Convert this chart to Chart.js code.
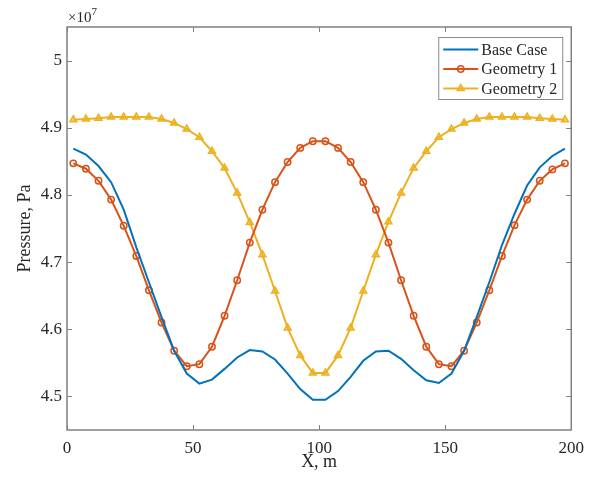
<!DOCTYPE html>
<html>
<head>
<meta charset="utf-8">
<script src="https://cdn.jsdelivr.net/npm/chart.js@4.4.0/dist/chart.umd.min.js"></script>
<style>
  html, body { margin: 0; padding: 0; background: #fff; }
  #wrap { width: 592px; height: 482px; }
</style>
</head>
<body>
<div id="wrap"><canvas id="pressureChart"></canvas></div>
<script>
// sample positions along the domain, m
const xPos = [2.5, 7.5, 12.5, 17.5, 22.5, 27.5, 32.5, 37.5, 42.5, 47.5,
              52.5, 57.5, 62.5, 67.5, 72.5, 77.5, 82.5, 87.5, 92.5, 97.5,
              102.5, 107.5, 112.5, 117.5, 122.5, 127.5, 132.5, 137.5, 142.5, 147.5,
              152.5, 157.5, 162.5, 167.5, 172.5, 177.5, 182.5, 187.5, 192.5, 197.5];

// pressure, x10^7 Pa
const baseCase = [4.869, 4.860, 4.843, 4.819, 4.778, 4.722, 4.670, 4.618, 4.568, 4.534,
                  4.519, 4.525, 4.541, 4.558, 4.569, 4.567, 4.555, 4.534, 4.511, 4.495,
                  4.495, 4.508, 4.529, 4.553, 4.567, 4.568, 4.556, 4.539, 4.524, 4.520,
                  4.534, 4.568, 4.618, 4.670, 4.725, 4.772, 4.814, 4.841, 4.858, 4.869];
const geometry1 = [4.847, 4.839, 4.821, 4.793, 4.754, 4.709, 4.658, 4.610, 4.568, 4.545,
                   4.548, 4.574, 4.620, 4.673, 4.729, 4.778, 4.819, 4.849, 4.870, 4.880,
                   4.880, 4.870, 4.849, 4.819, 4.778, 4.729, 4.673, 4.620, 4.574, 4.548,
                   4.545, 4.568, 4.610, 4.658, 4.709, 4.755, 4.793, 4.821, 4.838, 4.847];
const geometry2 = [4.912, 4.913, 4.914, 4.916, 4.916, 4.916, 4.916, 4.913, 4.907, 4.898,
                   4.886, 4.865, 4.840, 4.803, 4.759, 4.711, 4.657, 4.602, 4.561, 4.535,
                   4.535, 4.561, 4.602, 4.657, 4.711, 4.760, 4.803, 4.840, 4.865, 4.886,
                   4.898, 4.907, 4.913, 4.916, 4.916, 4.916, 4.916, 4.914, 4.913, 4.912];

const seriesNames = ['Base Case', 'Geometry 1', 'Geometry 2'];
const xTicks = [0, 50, 100, 150, 200];
const yTicks = [4.5, 4.6, 4.7, 4.8, 4.9, 5.0];

const SERIF = "'Liberation Serif', 'Times New Roman', serif";
const AXIS_GRAY = '#808080';
const TEXT = '#262626';

function toPoints(ys) {
    return xPos.map((x, i) => ({ x: x, y: ys[i] }));
}

// box around the axes with inward ticks on all four sides, plus the exponent
const boxAxes = {
    id: 'boxAxes',
    afterDatasetsDraw(chart) {
        const { ctx, chartArea: a, scales: { x, y } } = chart;
        const len = 5;
        ctx.save();
        ctx.strokeStyle = AXIS_GRAY;
        ctx.lineWidth = 1.5;
        ctx.strokeRect(a.left, a.top, a.right - a.left, a.bottom - a.top);
        ctx.lineWidth = 1;
        ctx.beginPath();
        x.ticks.forEach(t => {
            const px = Math.round(x.getPixelForValue(t.value)) + 0.5;
            ctx.moveTo(px, a.bottom); ctx.lineTo(px, a.bottom - len);
            ctx.moveTo(px, a.top); ctx.lineTo(px, a.top + len);
        });
        y.ticks.forEach(t => {
            const py = Math.round(y.getPixelForValue(t.value)) + 0.5;
            ctx.moveTo(a.left, py); ctx.lineTo(a.left + len, py);
            ctx.moveTo(a.right, py); ctx.lineTo(a.right - len, py);
        });
        ctx.stroke();

        ctx.fillStyle = TEXT;
        ctx.textAlign = 'left';
        ctx.textBaseline = 'alphabetic';
        ctx.font = '15px ' + SERIF;
        ctx.fillText('\u00d710', a.left + 1, a.top - 5);
        const w = ctx.measureText('\u00d710').width;
        ctx.font = '11px ' + SERIF;
        ctx.fillText('7', a.left + 1 + w, a.top - 12);
        ctx.restore();
    }
};

// legend drawn inside the top right corner of the plot
const insetLegend = {
    id: 'insetLegend',
    afterDraw(chart) {
        const { ctx, chartArea: a } = chart;
        const bx = a.right - 133, by = a.top + 10, bw = 124, bh = 62;
        ctx.save();
        ctx.fillStyle = '#fff';
        ctx.fillRect(bx, by, bw, bh);
        ctx.strokeStyle = '#8a8a8a';
        ctx.lineWidth = 1;
        ctx.strokeRect(bx + 0.5, by + 0.5, bw, bh);

        chart.data.datasets.forEach((ds, i) => {
            const cy = by + 12.5 + i * 19.5;
            const x0 = bx + 5, x1 = bx + 40;
            ctx.strokeStyle = ds.borderColor;
            ctx.lineWidth = ds.borderWidth;
            ctx.beginPath();
            ctx.moveTo(x0, cy); ctx.lineTo(x1, cy);
            ctx.stroke();
            if (ds.pointRadius > 0) {
                ctx.fillStyle = ds.pointBackgroundColor;
                ctx.strokeStyle = ds.pointBorderColor;
                ctx.lineWidth = ds.pointBorderWidth;
                Chart.helpers.drawPoint(ctx, {
                    pointStyle: ds.pointStyle,
                    radius: ds.pointRadius,
                    rotation: 0,
                    borderWidth: ds.pointBorderWidth
                }, (x0 + x1) / 2, cy);
            }
            ctx.fillStyle = TEXT;
            ctx.font = '16px ' + SERIF;
            ctx.textAlign = 'left';
            ctx.textBaseline = 'middle';
            ctx.fillText(ds.label, x1 + 3, cy + 1);
        });
        ctx.restore();
    }
};

const ctx = document.getElementById('pressureChart').getContext('2d');
const chart = new Chart(ctx, {
    type: 'line',
    data: {
        datasets: [{
            label: seriesNames[0],
            data: toPoints(baseCase),
            borderColor: '#0072BD',
            borderWidth: 2,
            pointRadius: 0,
            tension: 0
        }, {
            label: seriesNames[1],
            data: toPoints(geometry1),
            borderColor: '#D95319',
            borderWidth: 2,
            pointStyle: 'circle',
            pointRadius: 3.2,
            pointBorderWidth: 1.5,
            pointBorderColor: '#D95319',
            pointBackgroundColor: 'rgba(255,255,255,0)',
            tension: 0
        }, {
            label: seriesNames[2],
            data: toPoints(geometry2),
            borderColor: '#EDB120',
            borderWidth: 2,
            pointStyle: 'triangle',
            pointRadius: 4,
            pointBorderWidth: 1.5,
            pointBorderColor: '#EDB120',
            pointBackgroundColor: 'rgba(237,177,32,0.55)',
            tension: 0
        }]
    },
    options: {
        responsive: true,
        maintainAspectRatio: false,
        animation: false,
        layout: {
            padding: { top: 27, right: 17, left: 0, bottom: 0 }
        },
        scales: {
            x: {
                type: 'linear',
                min: 0,
                max: 200,
                afterBuildTicks: s => { s.ticks = xTicks.map(v => ({ value: v })); },
                afterFit: s => { s.height = 52; },
                grid: { display: false, drawTicks: false },
                border: { display: false },
                ticks: {
                    color: TEXT,
                    font: { family: SERIF, size: 17 },
                    padding: 8,
                    maxRotation: 0,
                    autoSkip: false
                },
                title: {
                    display: true,
                    text: 'X, m',
                    color: TEXT,
                    font: { family: SERIF, size: 18 },
                    padding: { top: 0, bottom: 9 }
                }
            },
            y: {
                type: 'linear',
                min: 4.45,
                max: 5.05,
                afterBuildTicks: s => { s.ticks = yTicks.map(v => ({ value: v })); },
                afterFit: s => { s.width = 67; },
                grid: { display: false, drawTicks: false },
                border: { display: false },
                ticks: {
                    color: TEXT,
                    font: { family: SERIF, size: 17 },
                    padding: 5,
                    autoSkip: false,
                    callback: v => String(parseFloat(v.toFixed(2)))
                },
                title: {
                    display: true,
                    text: 'Pressure, Pa',
                    color: TEXT,
                    font: { family: SERIF, size: 18 },
                    padding: { top: 14, bottom: 0 }
                }
            }
        },
        plugins: {
            legend: { display: false },
            tooltip: { enabled: false }
        }
    },
    plugins: [boxAxes, insetLegend]
});
</script>
</body>
</html>
